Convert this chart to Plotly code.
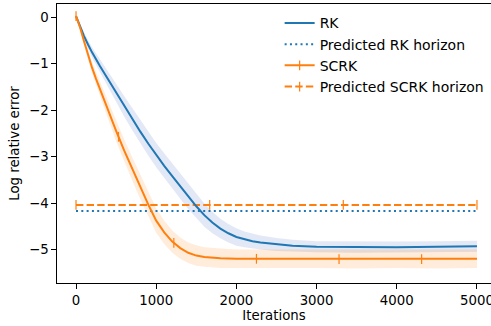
import numpy as np
import plotly.graph_objects as go

# ---- data ----
rk_iters = [0, 50, 100, 150, 200, 300, 400, 500, 600, 700, 800, 900, 1000, 1100, 1200,
            1300, 1400, 1500, 1600, 1700, 1800, 1900, 2000, 2100, 2200, 2300, 2500,
            2700, 3000, 3500, 4000, 4500, 5000]
rk_mean = [0.02, -0.2, -0.41, -0.59, -0.76, -1.06, -1.34, -1.63, -1.92, -2.19, -2.46,
           -2.72, -2.97, -3.2, -3.42, -3.64, -3.86, -4.07, -4.26, -4.42, -4.55, -4.65,
           -4.73, -4.78, -4.82, -4.85, -4.89, -4.92, -4.94, -4.95, -4.95, -4.94, -4.93]
rk_spread = [0.0, 0.04, 0.07, 0.09, 0.11, 0.14, 0.17, 0.2, 0.22, 0.24, 0.25, 0.26, 0.26,
             0.27, 0.27, 0.27, 0.27, 0.26, 0.25, 0.23, 0.21, 0.2, 0.19, 0.17, 0.16, 0.15,
             0.14, 0.13, 0.12, 0.12, 0.12, 0.12, 0.12]

scrk_iters = [0, 50, 100, 150, 200, 250, 300, 400, 500, 600, 700, 800, 900, 1000, 1100,
              1200, 1300, 1400, 1500, 1600, 1800, 2000, 2500, 3000, 3500, 4000, 4500, 5000]
scrk_mean = [0.02, -0.22, -0.52, -0.82, -1.09, -1.33, -1.56, -2.0, -2.45, -2.87, -3.26,
             -3.65, -4.03, -4.38, -4.63, -4.83, -4.97, -5.07, -5.13, -5.16, -5.19, -5.2,
             -5.2, -5.2, -5.21, -5.2, -5.21, -5.2]
scrk_spread = [0.0, 0.04, 0.07, 0.1, 0.12, 0.14, 0.16, 0.19, 0.22, 0.24, 0.25, 0.26, 0.26,
               0.26, 0.25, 0.24, 0.23, 0.22, 0.22, 0.21, 0.21, 0.2, 0.2, 0.2, 0.2, 0.2,
               0.2, 0.2]
scrk_mark_iters = [0, 530, 1220, 2250, 3280, 4310]

horizon_iters = [0, 1667, 3333, 5000]
rk_horizon = -4.17
scrk_horizon = -4.04

x_ticks = [0, 1000, 2000, 3000, 4000, 5000]
y_ticks = [0, -1, -2, -3, -4, -5]

BLUE = "#1f77b4"
ORANGE = "#ff7f0e"
FONT = "DejaVu Sans"
FS = 13.3
MARK = dict(symbol="line-ns", size=7, line=dict(color=ORANGE, width=1.2))

fig = go.Figure()


def band(x, m, s, color):
    up = [a + b for a, b in zip(m, s)]
    lo = [a - b for a, b in zip(m, s)]
    fig.add_trace(go.Scatter(x=list(x) + list(x)[::-1], y=up + lo[::-1], fill="toself",
                             fillcolor=color, line=dict(width=0), mode="lines",
                             hoverinfo="skip", showlegend=False))


band(rk_iters, rk_mean, rk_spread, "rgba(60,100,190,0.15)")
band(scrk_iters, scrk_mean, scrk_spread, "rgba(255,127,14,0.15)")

# horizons
fig.add_trace(go.Scatter(x=[horizon_iters[0], horizon_iters[-1]], y=[rk_horizon] * 2,
                         mode="lines", line=dict(color=BLUE, width=2, dash="2px,3.3px"),
                         showlegend=False))
fig.add_trace(go.Scatter(x=horizon_iters, y=[scrk_horizon] * len(horizon_iters),
                         mode="lines+markers", line=dict(color=ORANGE, width=2, dash="7.4px,3.2px"),
                         marker=MARK, showlegend=False))

# main curves
fig.add_trace(go.Scatter(x=rk_iters, y=rk_mean, mode="lines",
                         line=dict(color=BLUE, width=2), showlegend=False))
fig.add_trace(go.Scatter(x=scrk_iters, y=scrk_mean, mode="lines",
                         line=dict(color=ORANGE, width=2), showlegend=False))
fig.add_trace(go.Scatter(x=scrk_mark_iters,
                         y=list(np.interp(scrk_mark_iters, scrk_iters, scrk_mean)),
                         mode="markers", marker=MARK, showlegend=False))

# legend entries
fig.add_trace(go.Scatter(x=[None], y=[None], mode="lines", name="RK",
                         line=dict(color=BLUE, width=2)))
fig.add_trace(go.Scatter(x=[None], y=[None], mode="lines", name="Predicted RK horizon",
                         line=dict(color=BLUE, width=2, dash="2px,3.3px")))
fig.add_trace(go.Scatter(x=[None], y=[None], mode="lines+markers", name="SCRK",
                         line=dict(color=ORANGE, width=2), marker=MARK))
fig.add_trace(go.Scatter(x=[None], y=[None], mode="lines+markers", name="Predicted SCRK horizon",
                         line=dict(color=ORANGE, width=2, dash="7.4px,3.2px"), marker=MARK))

axis_common = dict(showline=True, linecolor="black", linewidth=1, ticks="outside",
                   ticklen=4.7, tickwidth=1, tickcolor="black", showgrid=False,
                   zeroline=False, automargin=False, ticklabeloverflow="allow",
                   tickfont=dict(family=FONT, size=FS, color="black"))

fig.update_layout(
    width=491, height=326,
    margin=dict(l=57, r=0, t=4, b=43),
    plot_bgcolor="white", paper_bgcolor="white",
    font=dict(family=FONT, size=FS, color="black"),
    xaxis=dict(range=[-237, 5175], tickvals=x_ticks, mirror=True,
               title=dict(text="Iterations", standoff=3, font=dict(family=FONT, size=FS)),
               **axis_common),
    yaxis=dict(range=[-5.72, 0.28], tickvals=y_ticks, mirror=False,
               title=dict(text="Log relative error", standoff=6, font=dict(family=FONT, size=FS)),
               **axis_common),
    legend=dict(x=0.513, y=0.988, xanchor="left", yanchor="top", bgcolor="rgba(0,0,0,0)",
                font=dict(family=FONT, size=14, color="black"), tracegroupgap=0),
    showlegend=True,
)

fig.write_html("out.html", config={"displayModeBar": False},
               post_script="document.body.style.margin='0';")
